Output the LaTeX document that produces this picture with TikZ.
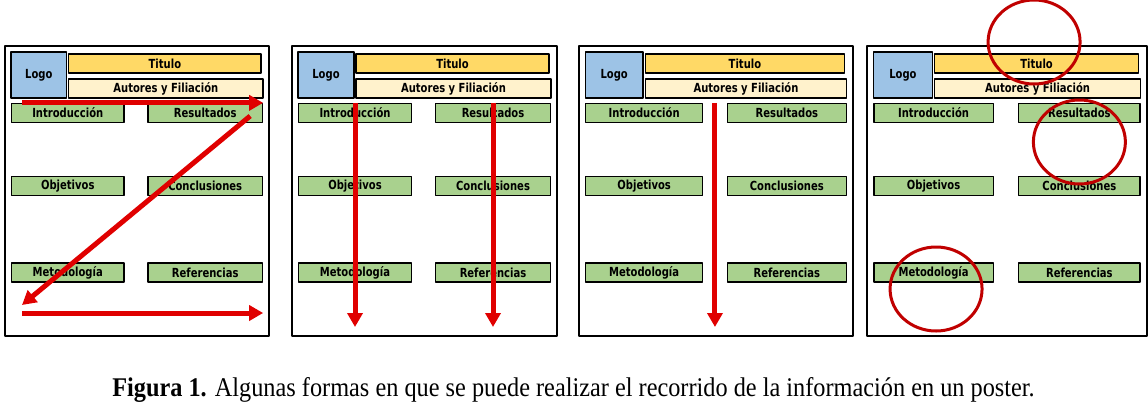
\documentclass[tikz,border=0pt]{standalone}
\usepackage{fontspec}
\usepackage{graphicx}
\setmainfont{Liberation Serif}
\newfontfamily\cajafont[FakeStretch=0.8]{DejaVu Sans}
\usetikzlibrary{arrows.meta,calc}
\definecolor{azullogo}{HTML}{9DC3E6}
\definecolor{amarillotit}{HTML}{FFD966}
\definecolor{cremaaut}{HTML}{FFF2CC}
\definecolor{verdesec}{HTML}{A9D18E}
\definecolor{rojoflecha}{HTML}{E00000}
\definecolor{rojomarca}{HTML}{C00000}
\begin{document}
\begin{tikzpicture}[x=1pt, y=-1pt, line join=round, >=Stealth]
	\useasboundingbox (0,0) rectangle (1148,416);
	\tikzset{
		caja/.style={draw, line width=1.3pt, inner sep=0pt, font=\cajafont\bfseries\fontsize{12.5}{14}\selectfont},
		seccion/.style={caja, fill=verdesec, minimum height=19pt},
		flecha/.style={draw=rojoflecha, line width=5pt, -{Triangle[width=15pt, length=14pt]}},
		marca/.style={draw=rojomarca, line width=3pt},
	}
	% un poster: #1 = ancho del marco
	\tikzset{poster/.pic={
			\pgfmathsetmacro\esc{#1/265}
			\draw[line width=1.5pt] (0,0) rectangle (#1,290);
			\node[caja, fill=azullogo, minimum width={56*\esc}, minimum height=46] (-logo) at ({34*\esc},29) {Logo};
			\node[caja, fill=amarillotit, minimum width={193*\esc}, minimum height=19] (-tit) at ({160.5*\esc},17.5) {Titulo};
			\node[caja, fill=cremaaut, minimum width={195*\esc}, minimum height=19] (-aut) at ({161.5*\esc},42.5) {Autores y Filiación};
			\node[seccion, minimum width={113*\esc}] (-intro) at ({63*\esc},67) {Introducción};
			\node[seccion, minimum width={115*\esc}] (-res) at ({201*\esc},67) {Resultados};
			\node[seccion, minimum width={113*\esc}] (-obj) at ({63*\esc},140) {Objetivos};
			\node[seccion, minimum width={115*\esc}] (-concl) at ({201*\esc},140) {Conclusiones};
			\node[seccion, minimum width={113*\esc}] (-meto) at ({63*\esc},226.5) {Metodología};
			\node[seccion, minimum width={115*\esc}] (-ref) at ({201*\esc},226.5) {Referencias};
			\coordinate (-fondo) at (0,281);
	}}
	\pic (p1) at (5,46) {poster=264};
	\pic (p2) at (292,46) {poster=265};
	\pic (p3) at (579,46) {poster=274};
	\pic (p4) at (867,46) {poster=280};
	% recorrido en Z
	\coordinate (giro) at (22,305);
	\coordinate (baseizq) at (22,313);
	\draw[flecha] ([xshift=11pt]p1-intro.north west) -- (p1-res.north east);
	\draw[flecha] ([xshift=-13pt, yshift=-3pt]p1-res.east) -- (giro);
	\draw[flecha] (baseizq) -- (p1-res.east |- baseizq);
	% recorrido en columnas
	\draw[flecha] (p2-intro.north) -- (p2-intro.north |- p2-fondo);
	\draw[flecha] (p2-res.north) -- (p2-res.north |- p2-fondo);
	% recorrido central
	\coordinate (centro) at ($(p3-intro.north east)!.5!(p3-res.north west)$);
	\draw[flecha] (centro) -- (centro |- p3-fondo);
	% puntos de atencion
	\draw[marca] ([xshift=-2.5pt, yshift=21.5pt]p4-tit.center) ellipse [x radius=46, y radius=42];
	\draw[marca] ([yshift=-29pt]p4-res.center) ellipse [x radius=46, y radius=42];
	\draw[marca] ([xshift=2.5pt, yshift=-16.5pt]p4-meto.center) ellipse [x radius=46, y radius=42];
	% pie de figura
	\node[anchor=base, inner sep=0pt] (pie) at (573.5,396) {\scalebox{0.9}[1]{\fontsize{27}{32}\selectfont\textbf{Figura 1.} Algunas formas en que se puede realizar el recorrido de la información en un poster.}};
\end{tikzpicture}
\end{document}
